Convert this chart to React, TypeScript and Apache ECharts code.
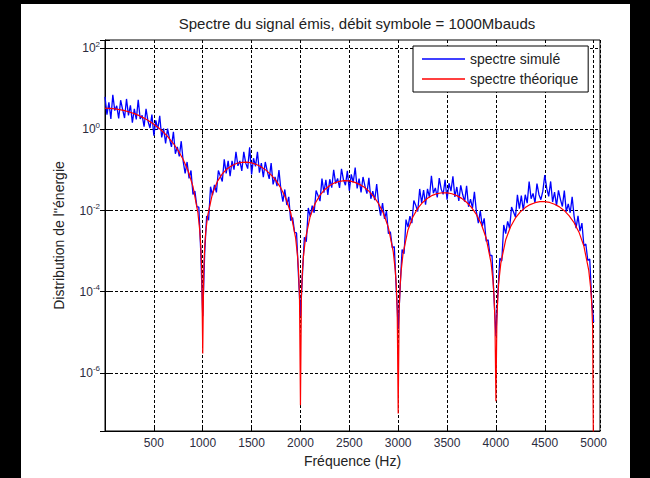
import React, { useEffect, useRef } from 'react';
import * as echarts from 'echarts';

const chartTitle = 'Spectre du signal émis, débit symbole = 1000Mbauds';
const xAxisName = 'Fréquence (Hz)';
const yAxisName = "Distribution de l''énergie";
const seriesNames = ['spectre simulé', 'spectre théorique'];
const xTickLabels = [500, 1000, 1500, 2000, 2500, 3000, 3500, 4000, 4500, 5000];
const yTickExponents = [-6, -4, -2, 0, 2];

// simulated spectrum, sampled every 20 Hz from 0 to 5000 Hz
const simStepHz = 20;
const simValues = [
  6.3, 2.3, 4.6, 1.8, 7.1, 2.9, 3.8, 1.85, 5.2, 3.1,
  1.9, 5.6, 2.2, 3.9, 1.46, 3.2, 1.75, 5.3, 1.8, 2.2,
  1.17, 3.2, 1.58, 1.08, 2.3, 0.70, 1.66, 0.99, 2.16, 0.63,
  1.05, 0.45, 1.04, 0.59, 0.37, 0.87, 0.25, 0.37, 0.216, 0.51,
  0.163, 0.082, 0.157, 0.062, 0.097, 0.025, 0.03, 0.0124, 0.0122, 0.00096,
  2.5e-5, 0.0009, 0.0073, 0.0058, 0.0385, 0.0238, 0.043, 0.028, 0.097, 0.071,
  0.052, 0.182, 0.082, 0.167, 0.070, 0.168, 0.102, 0.28, 0.126, 0.167,
  0.095, 0.279, 0.147, 0.108, 0.36, 0.077, 0.194, 0.122, 0.279, 0.086,
  0.148, 0.066, 0.157, 0.093, 0.060, 0.148, 0.044, 0.067, 0.040, 0.099,
  0.032, 0.0165, 0.033, 0.0137, 0.0218, 0.0056, 0.0067, 0.0029, 0.0028, 0.00024,
  2.5e-5, 0.00025, 0.0022, 0.0017, 0.0116, 0.0071, 0.0132, 0.0088, 0.031, 0.023,
  0.0171, 0.061, 0.0275, 0.057, 0.0242, 0.059, 0.0365, 0.1, 0.046, 0.062,
  0.036, 0.106, 0.057, 0.042, 0.095, 0.031, 0.078, 0.049, 0.114, 0.035,
  0.061, 0.028, 0.067, 0.040, 0.026, 0.064, 0.0195, 0.030, 0.018, 0.045,
  0.0146, 0.0075, 0.0152, 0.0062, 0.0097, 0.0027, 0.003, 0.0012, 0.0013, 0.00012,
  1.2e-5, 0.00013, 0.0011, 0.00086, 0.006, 0.0039, 0.0073, 0.0049, 0.0177, 0.0134,
  0.0095, 0.034, 0.0155, 0.032, 0.0139, 0.034, 0.021, 0.072, 0.0267, 0.036,
  0.0211, 0.063, 0.0337, 0.025, 0.057, 0.0185, 0.047, 0.030, 0.070, 0.0216,
  0.038, 0.0172, 0.0415, 0.0248, 0.0165, 0.0406, 0.0124, 0.019, 0.0115, 0.0287,
  0.0094, 0.0049, 0.0098, 0.0041, 0.0064, 0.00175, 0.0019, 0.00078, 0.00078, 0.000075,
  8e-6, 0.000092, 0.00067, 0.00057, 0.0044, 0.0027, 0.0054, 0.0036, 0.0122, 0.0092,
  0.0069, 0.0243, 0.0111, 0.0233, 0.010, 0.0245, 0.0152, 0.052, 0.0196, 0.0264,
  0.0155, 0.046, 0.0249, 0.0185, 0.03, 0.075, 0.035, 0.0224, 0.052, 0.0162,
  0.0286, 0.013, 0.0315, 0.0189, 0.0126, 0.0309, 0.0094, 0.0145, 0.0088, 0.0217,
  0.0072, 0.0037, 0.0074, 0.0031, 0.0049, 0.00136, 0.0015, 0.00059, 0.00064, 0.00006,
  1.8e-5,
];

// theoretical spectrum
const theoFreq = [
  0, 50, 100, 150, 200, 250, 300, 350, 400, 450, 500, 550, 600, 650, 700, 750, 800, 850, 900, 950,
  970, 980, 990, 1000, 1010, 1020, 1030, 1050, 1100, 1150, 1200, 1250, 1300, 1350, 1400, 1450, 1500,
  1550, 1600, 1650, 1700, 1750, 1800, 1850, 1900, 1950, 1970, 1980, 1990, 2000, 2010, 2020, 2030, 2050,
  2100, 2150, 2200, 2250, 2300, 2350, 2400, 2450, 2500, 2550, 2600, 2650, 2700, 2750, 2800, 2850, 2900,
  2950, 2970, 2980, 2990, 3000, 3010, 3020, 3030, 3050, 3100, 3150, 3200, 3250, 3300, 3350, 3400, 3450,
  3500, 3550, 3600, 3650, 3700, 3750, 3800, 3850, 3900, 3950, 3970, 3980, 3990, 4000, 4010, 4020, 4030,
  4050, 4100, 4150, 4200, 4250, 4300, 4350, 4400, 4450, 4500, 4550, 4600, 4650, 4700, 4750, 4800, 4850,
  4900, 4950, 4970, 4980, 4990, 5000,
];
const theoValues = [
  3.3, 3.27, 3.19, 3.06, 2.89, 2.67, 2.43, 2.17, 1.89, 1.61, 1.34, 1.08, 0.84, 0.628, 0.447, 0.297, 0.181, 0.0954, 0.0394, 0.00906,
  0.00315, 0.00137, 0.000337, 3e-6, 0.000323, 0.00127, 0.00279, 0.00742, 0.0264, 0.0521, 0.0802, 0.107, 0.129, 0.146, 0.154, 0.155, 0.149,
  0.136, 0.118, 0.0975, 0.0757, 0.0546, 0.0356, 0.0201, 0.00884, 0.00215, 0.000763, 0.000337, 0.000083, 1.6e-7, 0.000082, 0.000323, 0.000719, 0.00195,
  0.00724, 0.0149, 0.0239, 0.033, 0.0414, 0.0481, 0.0525, 0.0543, 0.0535, 0.0502, 0.0447, 0.0378, 0.03, 0.0221, 0.0147, 0.00848, 0.0038,
  0.00094, 0.000335, 0.000149, 0.000037, 1e-7, 0.000036, 0.000145, 0.000323, 0.00088, 0.00332, 0.00695, 0.0113, 0.0158, 0.0201, 0.0237, 0.0262, 0.0274,
  0.0273, 0.0259, 0.0233, 0.0199, 0.016, 0.0119, 0.008, 0.00465, 0.0021, 0.000524, 0.000188, 0.000083, 0.0000207, 2e-7, 0.0000205, 0.000082, 0.000182,
  0.000498, 0.0019, 0.004, 0.00655, 0.00926, 0.0118, 0.014, 0.0156, 0.0165, 0.0165, 0.0158, 0.0143, 0.0123, 0.0099, 0.0074, 0.005, 0.00293,
  0.00133, 0.000334, 0.00012, 0.000053, 0.0000132, 1e-9,
];

const xMin = 0;
const xMax = 5065;
const yMinExp = -7.43;
const yMaxExp = 2.2;

export default function App() {
  const ref = useRef<HTMLDivElement>(null);
  useEffect(() => {
    if (!ref.current) return;
    const chart = echarts.init(ref.current, null, { renderer: 'svg' });
    const simData = simValues.map((v, i) => [i * simStepHz, v]);
    const theoData = theoFreq.map((f, i) => [f, theoValues[i]]);
    const font = '"Liberation Sans", Arial, sans-serif';
    const labelColor = '#2b2b3d';
    const gridDash = { color: '#000', width: 1, type: [3, 2] as any };
    chart.setOption({
      animation: false,
      backgroundColor: '#fff',
      textStyle: { fontFamily: font },
      title: {
        text: chartTitle,
        left: 352,
        textAlign: 'center',
        top: 11,
        textStyle: { fontSize: 15, fontWeight: 'normal', color: '#222', fontFamily: font },
      },
      legend: {
        orient: 'vertical',
        left: 413,
        top: 46,
        padding: [6, 10, 6, 9],
        itemGap: 6,
        itemWidth: 43,
        itemHeight: 1.5,
        icon: 'rect',
        backgroundColor: '#fff',
        borderColor: '#000',
        borderWidth: 1,
        textStyle: { fontSize: 14, color: '#222', fontFamily: font },
        data: seriesNames,
      },
      graphic: [
        { type: 'rect', shape: { x: 0, y: 0, width: 21, height: 478 }, style: { fill: '#000' } },
        { type: 'rect', shape: { x: 630, y: 0, width: 20, height: 478 }, style: { fill: '#000' } },
        { type: 'rect', shape: { x: 0, y: 0, width: 650, height: 4 }, style: { fill: '#000' } },
      ],
      grid: { left: 105, right: 50, top: 40, bottom: 47, show: true, borderColor: '#000', borderWidth: 1, backgroundColor: '#fff' },
      xAxis: [
        {
          type: 'value', min: xMin, max: xMax, interval: 500, position: 'bottom',
          name: xAxisName, nameLocation: 'middle', nameGap: 23,
          nameTextStyle: { fontSize: 14, color: '#222', fontFamily: font },
          axisLine: { show: true, onZero: false, lineStyle: { color: '#000' } },
          axisTick: { show: true, inside: true, length: 5, lineStyle: { color: '#000' } },
          axisLabel: {
            margin: 6, fontSize: 12, color: labelColor, showMinLabel: false, showMaxLabel: false,
            formatter: (v: number) => (xTickLabels.indexOf(v) >= 0 ? String(v) : ''),
          },
          splitLine: { show: true, lineStyle: gridDash },
        },
        {
          type: 'value', min: xMin, max: xMax, interval: 500, position: 'top',
          axisLine: { show: false },
          axisTick: { show: true, inside: true, length: 5, lineStyle: { color: '#000' } },
          axisLabel: { show: false },
          splitLine: { show: false },
        },
      ],
      yAxis: [
        {
          type: 'log', logBase: 10, min: Math.pow(10, yMinExp), max: Math.pow(10, yMaxExp), position: 'left',
          name: yAxisName, nameLocation: 'middle', nameGap: 39, nameRotate: 90,
          nameTextStyle: { fontSize: 14, color: '#222', fontFamily: font },
          axisLine: { show: true, onZero: false, lineStyle: { color: '#000' } },
          axisTick: { show: false },
          minorTick: { show: false },
          axisLabel: {
            margin: 5, showMinLabel: false, showMaxLabel: false,
            formatter: (v: number) => {
              const l = Math.log10(v);
              const e = Math.round(l);
              if (Math.abs(l - e) > 1e-6 || yTickExponents.indexOf(e) < 0) return '';
              return `{b|10}{e|${e}}`;
            },
            rich: {
              b: { fontSize: 12, color: labelColor, lineHeight: 16, fontFamily: font },
              e: { fontSize: 8, color: labelColor, lineHeight: 9, verticalAlign: 'top', fontFamily: font },
            },
          },
          splitLine: { show: true, lineStyle: { ...gridDash, color: ['#000', 'rgba(0,0,0,0)'] } },
        },
        {
          type: 'value', min: yMinExp, max: yMaxExp, position: 'left',
          axisLine: { show: false },
          axisTick: { show: true, inside: true, length: 5, lineStyle: { color: '#000' } },
          axisLabel: { show: false },
          splitLine: { show: false },
        },
        {
          type: 'value', min: yMinExp, max: yMaxExp, position: 'right',
          axisLine: { show: false },
          axisTick: { show: true, inside: true, length: 5, lineStyle: { color: '#000' } },
          axisLabel: { show: false },
          splitLine: { show: false },
        },
      ],
      series: [
        {
          name: seriesNames[0], type: 'line', xAxisIndex: 0, yAxisIndex: 0, data: simData,
          symbol: 'none', showSymbol: false, clip: true,
          lineStyle: { color: '#0000ff', width: 1.3 }, itemStyle: { color: '#0000ff' },
        },
        {
          name: seriesNames[1], type: 'line', xAxisIndex: 0, yAxisIndex: 0, data: theoData,
          symbol: 'none', showSymbol: false, clip: true,
          lineStyle: { color: '#ff0000', width: 1.2 }, itemStyle: { color: '#ff0000' },
        },
      ],
    });
    return () => chart.dispose();
  }, []);
  return <div ref={ref} style={{ position: 'absolute', left: 0, top: 0, width: 650, height: 478 }} />;
}
